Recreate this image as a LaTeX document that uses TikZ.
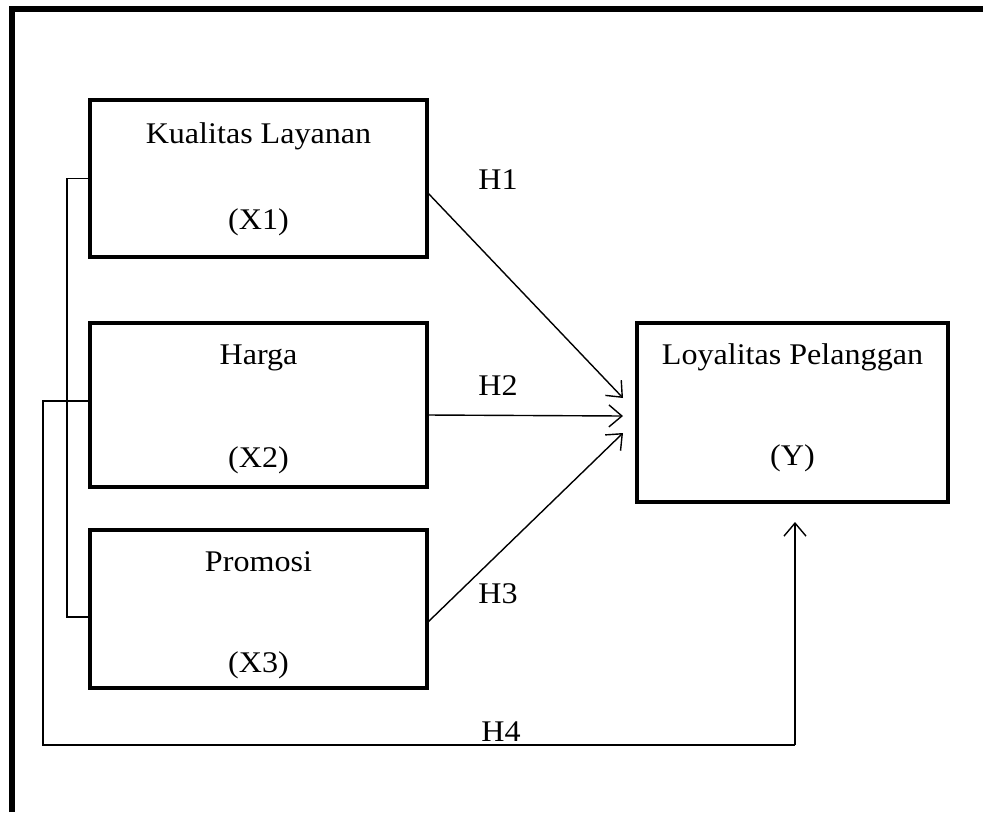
\documentclass[tikz,border=0pt]{standalone}
\usepackage{fontspec}
\setmainfont[FakeStretch=1.07]{Liberation Serif}
\usetikzlibrary{arrows.meta, positioning, calc}

\begin{document}
\begin{tikzpicture}[
    x=1pt, y=-1pt,
    varbox/.style={rectangle, draw, line width=4.5pt, minimum width=337pt, minimum height=157pt, inner sep=0pt, outer sep=0pt},
    txt/.style={anchor=base, inner sep=0pt, font=\fontsize{30}{36}\selectfont},
    conn/.style={line width=1.8pt},
    hyp/.style={line width=1.4pt, -{Straight Barb[length=13pt, width=22pt, line width=1.4pt]}}
]
\useasboundingbox[fill=white] (0,0) rectangle (983,812);

% FRAME
\draw[line width=5.5pt] (12,812) -- (12,9) -- (983,9);

% VARIABLE X1
\node[varbox] (x1) at (258.5,178.5) {};
\node[txt] (x1a) at (258.5,143) {Kualitas Layanan};
\node[txt] (x1b) at (258.5,229) {(X1)};

% VARIABLE X2
\node[varbox, minimum height=164pt, below=66pt of x1] (x2) {};
\node[txt] (x2a) at (258.5,364) {Harga};
\node[txt] (x2b) at (258.5,467) {(X2)};

% VARIABLE X3
\node[varbox, minimum height=158pt, below=43pt of x2] (x3) {};
\node[txt] (x3a) at (258.5,571) {Promosi};
\node[txt] (x3b) at (258.5,672) {(X3)};

% VARIABLE Y
\node[varbox, minimum width=311pt, minimum height=179pt] (y) at (792.5,412.5) {};
\node[txt] (ya) at (792.5,364) {Loyalitas Pelanggan};
\node[txt] (yb) at (792.5,465) {(Y)};

% Hypotheses
\draw[hyp] ([yshift=-13.5pt]x1.east) -- ([xshift=-14pt,yshift=14.5pt]y.west);
\draw[hyp] ([yshift=-10pt]x2.east) -- ([xshift=-14pt,yshift=-3.5pt]y.west);
\draw[hyp] ([yshift=-14pt]x3.east) -- ([xshift=-14pt,yshift=-20.5pt]y.west);
\node[txt] (h1) at (498,189) {H1};
\node[txt] (h2) at (498,395) {H2};
\node[txt] (h3) at (498,603) {H3};
\node[txt] (h4) at (501,741) {H4};

% Simultaneous
\draw[conn] (x1.west) -- ++(-23,0) |- ([yshift=-8pt]x3.west);
\draw[conn] ([yshift=4pt]x2.west) -- ++(-47,0) |- (795,745);
\draw[hyp] (795,745) -- ([xshift=2.5pt,yshift=-20pt]y.south);

\end{tikzpicture}
\end{document}
